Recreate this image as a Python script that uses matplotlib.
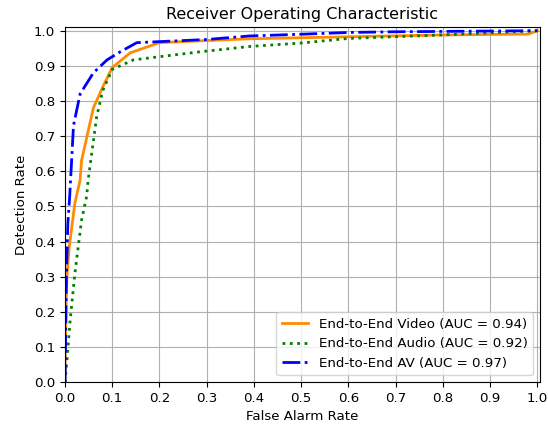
import matplotlib
matplotlib.use("Agg")
import matplotlib.pyplot as plt

fpr_video = [0.0, 0.002, 0.004, 0.009, 0.021, 0.032, 0.035, 0.06, 0.08, 0.10, 0.138, 0.2, 0.3, 0.39, 0.5, 0.8, 0.95, 0.98, 1.0]
tpr_video = [0.0, 0.2, 0.30, 0.385, 0.51, 0.575, 0.63, 0.78, 0.84, 0.895, 0.937, 0.966, 0.972, 0.977, 0.98, 0.988, 0.99, 0.99, 1.0]

fpr_audio = [0.0, 0.004, 0.011, 0.021, 0.035, 0.046, 0.049, 0.067, 0.08, 0.10, 0.145, 0.2, 0.286, 0.39, 0.5, 0.6, 0.8, 1.0]
tpr_audio = [0.0, 0.06, 0.177, 0.31, 0.46, 0.53, 0.575, 0.755, 0.83, 0.89, 0.917, 0.926, 0.94, 0.955, 0.965, 0.978, 0.988, 1.0]

fpr_av = [0.0, 0.003, 0.006, 0.01, 0.018, 0.032, 0.06, 0.089, 0.117, 0.152, 0.3, 0.39, 0.5, 0.6, 0.7, 1.0]
tpr_av = [0.0, 0.3, 0.45, 0.53, 0.73, 0.82, 0.88, 0.917, 0.94, 0.966, 0.975, 0.985, 0.99, 0.995, 0.997, 1.0]

labels = ["End-to-End Video (AUC = 0.94)", "End-to-End Audio (AUC = 0.92)", "End-to-End AV (AUC = 0.97)"]

plt.rcParams["font.size"] = 9.6

fig = plt.figure(figsize=(5.48, 4.25), dpi=100)
ax = fig.add_axes([0.1186, 0.101, 0.8664, 0.835])
ax.plot(fpr_video, tpr_video, color="darkorange", lw=2, linestyle="-", label=labels[0])
ax.plot(fpr_audio, tpr_audio, color="green", lw=2, linestyle=":", label=labels[1])
ax.plot(fpr_av, tpr_av, color="blue", lw=2, linestyle="-.", label=labels[2])
ax.set_xlim(0.0, 1.005)
ax.set_ylim(0.0, 1.01)
ax.set_xticks([i / 10 for i in range(11)])
ax.set_yticks([i / 10 for i in range(11)])
ax.grid(True)
ax.set_xlabel("False Alarm Rate")
ax.set_ylabel("Detection Rate")
ax.set_title("Receiver Operating Characteristic", fontsize=11.5)
ax.legend(loc="lower right")
fig.savefig("out.png", dpi=100)
